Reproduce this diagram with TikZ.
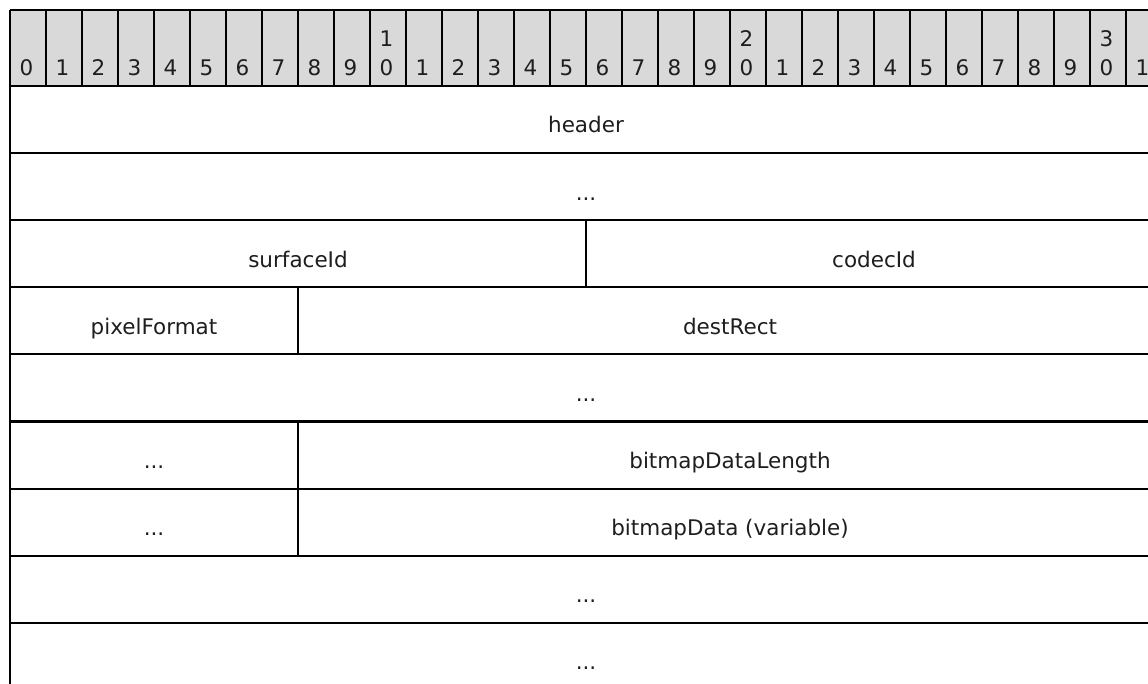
\documentclass[tikz,border=0pt]{standalone}
\usepackage{fontspec}
\setmainfont{DejaVu Sans}
\usepackage{xcolor}
\usetikzlibrary{positioning}
\tikzset{every picture/.style={line width=2.2pt}}
\definecolor{rulergray}{HTML}{D9D9D9}
\definecolor{txtgray}{HTML}{1E1E1E}

\begin{document}
\begin{tikzpicture}[x=1pt,y=-1pt,
  bitlbl/.style={anchor=base west,inner sep=0pt,text=txtgray,font=\fontsize{21.5}{25}\selectfont},
  fieldlbl/.style={anchor=base,inner sep=0pt,text=txtgray,font=\fontsize{21.5}{25}\selectfont}]
\useasboundingbox (0,0) rectangle (1148,684);
%
% bit ruler
\fill[rulergray] (10,10) rectangle (1163,86);
\draw[line width=1.2pt] (10,10) -- (1163,10);
\foreach \i in {1,...,31}
  \draw[line width=1.2pt] (10+36*\i,10) -- (10+36*\i,86);
\foreach \i in {0,...,31}{
  \pgfmathtruncatemacro\u{mod(\i,10)}
  \node[bitlbl] (bit\i) at (18.5+36*\i,76) {\u};
}
\foreach \i/\t in {10/1,20/2,30/3}
  \node[bitlbl] (tens\i) at (18.5+36*\i,47) {\t};
%
% grid
\draw (10,10) -- (10,700);
\draw (1163,10) -- (1163,700);
\foreach \y in {86,153.1,220.2,287.3,354.4,421.5,488.6,555.7,622.8}
  \draw (10,\y) -- (1163,\y);
\draw (586,220.2) -- (586,287.3);
\draw (298,287.3) -- (298,354.4);
\draw (298,421.5) -- (298,555.7);
%
% fields
\node[fieldlbl] (header) at (586,133) {header};
\node[fieldlbl] (hdrmore) at (586,200.1) {...};
\node[fieldlbl] (surfaceId) at (298,267.2) {surfaceId};
\node[fieldlbl] (codecId) at (874,267.2) {codecId};
\node[fieldlbl] (pixelFormat) at (154,334.3) {pixelFormat};
\node[fieldlbl] (destRect) at (730,334.3) {destRect};
\node[fieldlbl] (rectmore) at (586,401.4) {...};
\node[fieldlbl] (rectmore2) at (154,468.5) {...};
\node[fieldlbl] (bitmapDataLength) at (730,468.5) {bitmapDataLength};
\node[fieldlbl] (lenmore) at (154,535.6) {...};
\node[fieldlbl] (bitmapData) at (730,535.6) {bitmapData (variable)};
\node[fieldlbl] (datamore) at (586,602.7) {...};
\node[fieldlbl] (datamore2) at (586,669.8) {...};
\end{tikzpicture}
\end{document}
